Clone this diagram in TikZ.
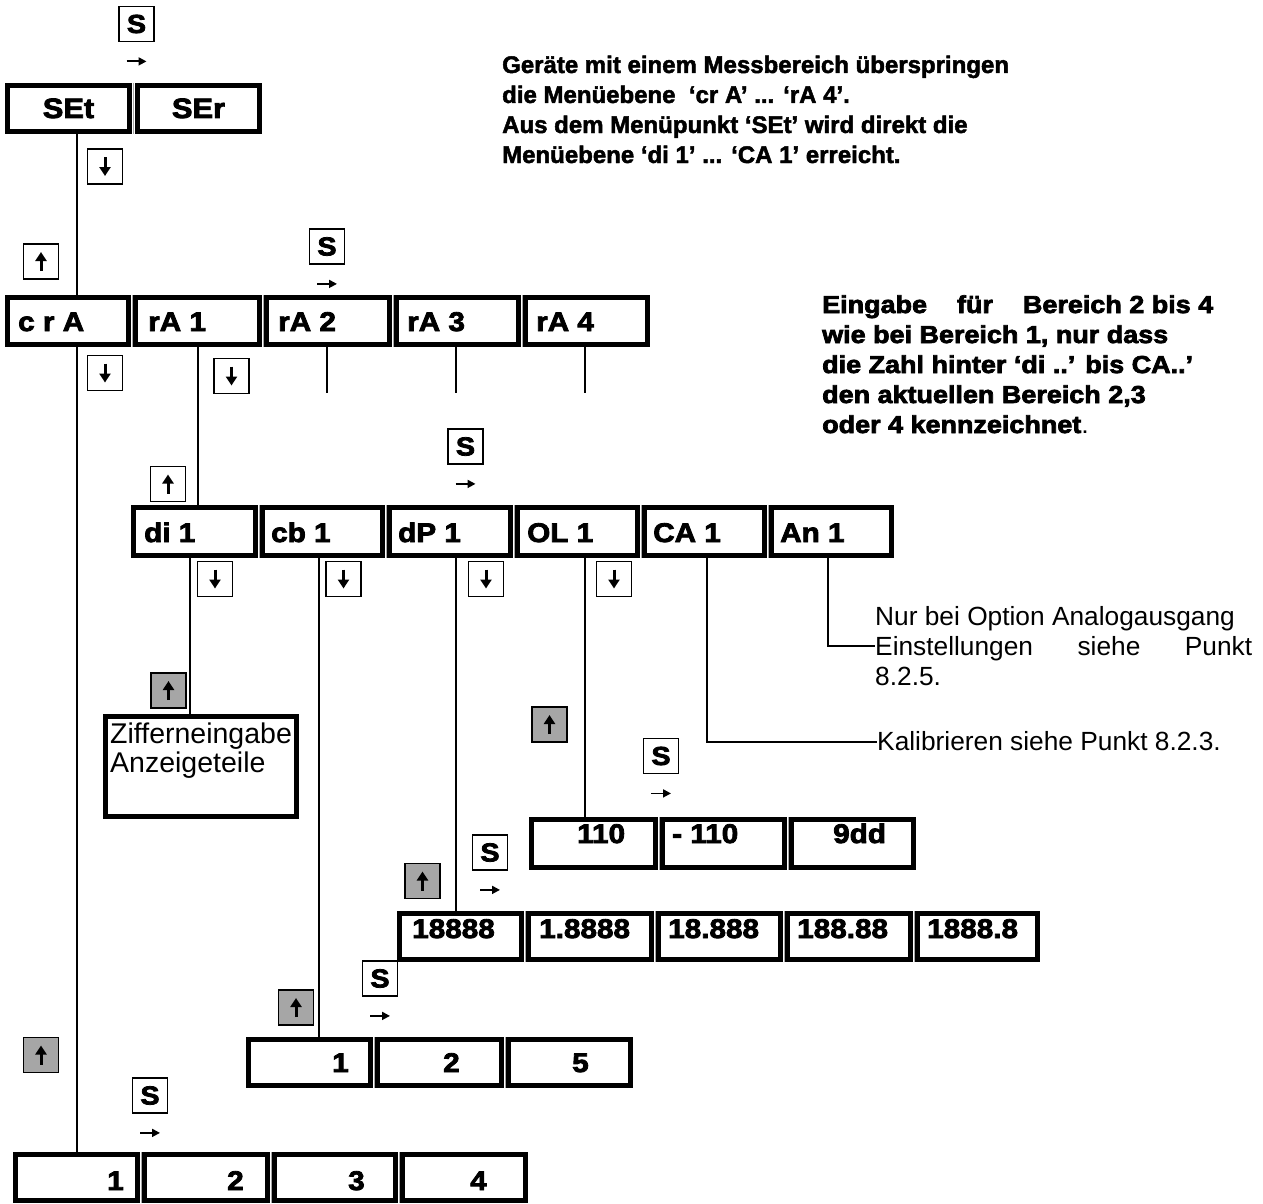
\documentclass[tikz,border=0pt]{standalone}
\usepackage{fontspec}
\setmainfont{Liberation Sans}[BoldFeatures={FakeBold=2}]
\newfontfamily\bxfont{Liberation Sans}[FakeStretch=1.1, BoldFeatures={FakeBold=3}]
\usetikzlibrary{arrows.meta}
\definecolor{keygray}{RGB}{166,166,166}
\newcommand\cel[5]{\node[cellbox, minimum width={#3-#2-5}, minimum height={#5-#4-5}] (#1) at ({(#2+#3)/2},{(#4+#5)/2}) {};}
\newcommand\lab[4]{\node[blab] (#1) at (#2,#3) {#4};}
\begin{document}
\begin{tikzpicture}[x=1pt,y=-1pt,
  cellbox/.style={draw, line width=5pt, inner sep=0pt},
  sepline/.style={draw=gray!70, line width=1pt},
  conn/.style={line width=2pt},
  key/.style={draw, line width=1.8pt, minimum size=35pt, inner sep=0pt, fill=white, font={\bxfont\bfseries\fontsize{26}{26}\selectfont}},
  upk/.style={key, path picture={\draw[line width=3pt,-{Triangle[length=9pt,width=11pt]}] ([yshift=8pt]path picture bounding box.south) -- ([yshift=-8pt]path picture bounding box.north);}},
  dnk/.style={key, path picture={\draw[line width=3pt,-{Triangle[length=9pt,width=11pt]}] ([yshift=-8pt]path picture bounding box.north) -- ([yshift=8pt]path picture bounding box.south);}},
  gupk/.style={upk, fill=keygray},
  sarr/.style={line width=1.8pt, -{Triangle[length=8pt,width=8pt]}},
  blab/.style={inner sep=0pt, anchor=base west, font={\bxfont\bfseries\fontsize{27}{30}\selectfont}},
  ptop/.style={inner sep=0pt, anchor=base west, font={\bfseries\fontsize{24}{30}\selectfont}},
  pright/.style={inner sep=0pt, anchor=base west, font={\bxfont\bfseries\fontsize{24.5}{30}\selectfont}},
  preg/.style={inner sep=0pt, anchor=base west, font={\fontsize{26.3}{30}\selectfont}},
  pzif/.style={inner sep=0pt, anchor=base west, font={\fontsize{28.5}{30}\selectfont}}
]
\useasboundingbox[fill=white] (0,0) rectangle (1263,1204);

% ---------- row A ----------
\draw[sepline] (133.5,83) -- (133.5,134);
\cel{SEt}{5}{132}{83}{134}
\cel{SEr}{135}{262}{83}{134}
\node[blab, anchor=base, font={\bxfont\bfseries\fontsize{28}{30}\selectfont}] (lSEt) at (68.5,118) {SEt};
\node[blab, anchor=base, font={\bxfont\bfseries\fontsize{28}{30}\selectfont}] (lSEr) at (198.5,118) {SEr};

% ---------- row B ----------
\foreach \x in {132,263,393,522} \draw[sepline] (\x,295) -- (\x,347);
\cel{crA}{5}{131}{295}{347}
\cel{rA1}{133}{262}{295}{347}
\cel{rA2}{264}{392}{295}{347}
\cel{rA3}{394}{521}{295}{347}
\cel{rA4}{523}{650}{295}{347}
\lab{lcrA}{18}{331}{c r A}
\lab{lrA1}{148}{331}{rA 1}
\lab{lrA2}{278}{331}{rA 2}
\lab{lrA3}{407}{331}{rA 3}
\lab{lrA4}{536}{331}{rA 4}

% ---------- row C ----------
\foreach \x in {259,386,514,641,768} \draw[sepline] (\x,505) -- (\x,558);
\cel{di1}{131}{258}{505}{558}
\cel{cb1}{260}{385}{505}{558}
\cel{dP1}{387}{513}{505}{558}
\cel{OL1}{515}{640}{505}{558}
\cel{CA1}{642}{767}{505}{558}
\cel{An1}{769}{894}{505}{558}
\lab{ldi1}{144}{542}{di 1}
\lab{lcb1}{271}{542}{cb 1}
\lab{ldP1}{398}{542}{dP 1}
\lab{lOL1}{527}{542}{OL 1}
\lab{lCA1}{653}{542}{CA 1}
\lab{lAn1}{780}{542}{An 1}

% ---------- Ziffer box ----------
\cel{ziff}{103}{299}{714}{819}
\node[pzif] (z1) at (110,743) {Zifferneingabe};
\node[pzif] (z2) at (110,772) {Anzeigeteile};

% ---------- row D ----------
\foreach \x in {659,788} \draw[sepline] (\x,817) -- (\x,870);
\cel{d1}{529}{658}{817}{870}
\cel{d2}{660}{787}{817}{870}
\cel{d3}{789}{916}{817}{870}
\lab{ld1}{577}{843}{110}
\lab{ld2}{672}{843}{- 110}
\lab{ld3}{833}{843}{9dd}

% ---------- row E ----------
\foreach \x in {525,655,784,914} \draw[sepline] (\x,911) -- (\x,962);
\cel{e1}{397}{524}{911}{962}
\cel{e2}{526}{654}{911}{962}
\cel{e3}{656}{783}{911}{962}
\cel{e4}{785}{913}{911}{962}
\cel{e5}{915}{1040}{911}{962}
\lab{le1}{412}{938}{18888}
\lab{le2}{539}{938}{1.8888}
\lab{le3}{668}{938}{18.888}
\lab{le4}{797}{938}{188.88}
\lab{le5}{927}{938}{1888.8}

% ---------- row F ----------
\foreach \x in {374,505} \draw[sepline] (\x,1037) -- (\x,1088);
\cel{f1}{246}{373}{1037}{1088}
\cel{f2}{375}{504}{1037}{1088}
\cel{f3}{506}{633}{1037}{1088}
\lab{lf1}{332}{1072}{1}
\lab{lf2}{443}{1072}{2}
\lab{lf3}{572}{1072}{5}

% ---------- row G ----------
\foreach \x in {141,271,399} \draw[sepline] (\x,1152) -- (\x,1203);
\cel{g1}{13}{140}{1152}{1203}
\cel{g2}{142}{270}{1152}{1203}
\cel{g3}{272}{398}{1152}{1203}
\cel{g4}{400}{528}{1152}{1203}
\lab{lg1}{107}{1190}{1}
\lab{lg2}{227}{1190}{2}
\lab{lg3}{348}{1190}{3}
\lab{lg4}{470}{1190}{4}

% ---------- connectors ----------
\coordinate (x77) at (77,0);
\coordinate (x198) at (198,0);
\coordinate (x190) at (190,0);
\coordinate (x319) at (319,0);
\coordinate (x456) at (456,0);
\coordinate (x585) at (585,0);
\coordinate (x707) at (707,0);
\coordinate (x828) at (828,0);
\coordinate (t2) at (327,393);
\coordinate (t3) at (456,393);
\coordinate (t4) at (585,393);
\coordinate (kalend) at (877,742);
\coordinate (anend) at (875,646);

\draw[conn] (SEt.south -| x77) -- (crA.north -| x77);
\draw[conn] (crA.south -| x77) -- (g1.north -| x77);
\draw[conn] (rA1.south -| x198) -- (di1.north -| x198);
\draw[conn] (rA2.south -| t2) -- (t2);
\draw[conn] (rA3.south -| t3) -- (t3);
\draw[conn] (rA4.south -| t4) -- (t4);
\draw[conn] (di1.south -| x190) -- (ziff.north -| x190);
\draw[conn] (cb1.south -| x319) -- (f1.north -| x319);
\draw[conn] (dP1.south -| x456) -- (e1.north -| x456);
\draw[conn] (OL1.south -| x585) -- (d1.north -| x585);
\draw[conn] (CA1.south -| x707) |- (kalend);
\draw[conn] (An1.south -| x828) |- (anend);

% ---------- keys ----------
\node[key] (sA) at (136.5,24) {S};
\node[key] (sB) at (327,246.5) {S};
\node[key] (sC) at (465.5,446.5) {S};
\node[key] (sD) at (661,756) {S};
\node[key] (sE) at (490,852.5) {S};
\node[key] (sF) at (380,978.5) {S};
\node[key] (sG) at (150,1095.5) {S};
\foreach \k in {sA,sB,sC,sD,sE,sF,sG}
  \draw[sarr] ([xshift=-10pt,yshift=-19pt]\k.south) -- ([xshift=10pt,yshift=-19pt]\k.south);

\node[dnk] (dA) at (105,166.5) {};
\node[dnk] (dB1) at (105,373) {};
\node[dnk] (dB2) at (231.5,376) {};
\node[dnk] (dC1) at (215,579) {};
\node[dnk] (dC2) at (343.5,579) {};
\node[dnk] (dC3) at (486,579) {};
\node[dnk] (dC4) at (614,579) {};

\node[upk] (uB) at (41,261.5) {};
\node[upk] (uC) at (168,484) {};
\node[gupk] (gC) at (168.5,690.5) {};
\node[gupk] (gD) at (549.5,724.5) {};
\node[gupk] (gE) at (422.5,881) {};
\node[gupk] (gF) at (296,1007.5) {};
\node[gupk] (gG) at (41,1055) {};

% ---------- texts ----------
\node[ptop] (p1) at (502,73) {Geräte mit einem Messbereich überspringen};
\node[ptop] (p2) at (502,103) {die Menüebene\ \ ‘cr A’ ... ‘rA 4’.};
\node[ptop] (p3) at (502,133) {Aus dem Menüpunkt ‘SEt’ wird direkt die};
\node[ptop] (p4) at (502,163) {Menüebene ‘di 1’ ... ‘CA 1’ erreicht.};

\node[pright] (q1) at (822,313) {\makebox[391pt][s]{Eingabe\hfill für\hfill Bereich 2 bis 4}};
\node[pright] (q2) at (822,343) {wie bei Bereich 1, nur dass};
\node[pright] (q3) at (822,373) {die Zahl hinter ‘di ..’ bis CA..’};
\node[pright] (q4) at (822,403) {den aktuellen Bereich 2,3};
\node[pright] (q5) at (822,433) {oder 4 kennzeichnet\mdseries.};

\node[preg] (n1) at (875,625) {Nur bei Option Analogausgang};
\node[preg] (n2) at (875,655) {\makebox[377pt][s]{Einstellungen\hfill siehe\hfill Punkt}};
\node[preg] (n3) at (875,685) {8.2.5.};
\node[preg] (k1) at (877,750) {Kalibrieren siehe Punkt 8.2.3.};
\end{tikzpicture}
\end{document}
